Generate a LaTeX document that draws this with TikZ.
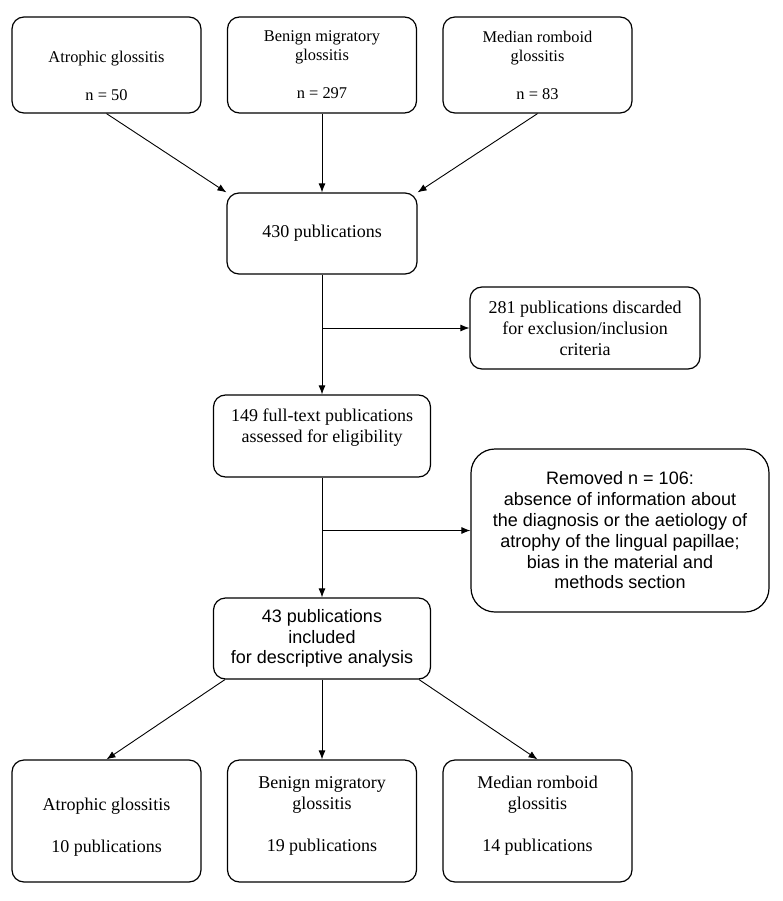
\documentclass[tikz,border=0pt]{standalone}
\usepackage{fontspec}
\setmainfont{Liberation Serif}
\setsansfont{Liberation Sans}
\usetikzlibrary{positioning, shapes, arrows.meta, calc}

\begin{document}
\begin{tikzpicture}[x=1pt, y=-1pt,
    box/.style={draw, rounded corners=12pt, line width=1.2pt, align=center, inner sep=0pt},
    arr/.style={-{Latex[length=9pt,width=7pt]}, line width=0.9pt},
    toptxt/.style={font=\fontsize{16.4}{19}\selectfont},
    bigtxt/.style={font=\fontsize{18}{21}\selectfont},
    sanstxt/.style={font=\sffamily\fontsize{18}{20.8}\selectfont}]
  \useasboundingbox (0,0) rectangle (783,901);

  % Nodes
  \foreach \x/\name/\txt in {106.5/atroA/{\strut\\Atrophic glossitis\\~\\n = 50},
                             322/benA/{Benign migratory\\glossitis\\~\\n = 297},
                             537.5/medA/{Median romboid\\glossitis\\~\\n = 83}}
  \node[box, toptxt, minimum width=189pt, minimum height=96pt] (\name) at (\x,65) {\txt};

  \node[box, bigtxt, minimum width=190pt, minimum height=81pt] (pubs) at (322,233.5) {430 publications};
  \node[box, bigtxt, minimum width=230pt, minimum height=82pt] (discard) at (585,328)
       {281 publications discarded\\for exclusion/inclusion\\criteria};
  \node[box, bigtxt, minimum width=217pt, minimum height=82pt] (full) at (322,436)
       {149 full-text publications\\assessed for eligibility\\~};
  \node[box, sanstxt, rounded corners=24pt, minimum width=298pt, minimum height=163pt] (removed) at (620,530.5)
       {Removed n = 106:\\absence of information about\\the diagnosis or the aetiology of\\atrophy of the lingual papillae;\\bias in the material and\\methods section};
  \node[box, sanstxt, minimum width=217pt, minimum height=81pt] (incl) at (322,638.5)
       {43 publications\\included\\for descriptive analysis};

  \foreach \x/\name/\txt in {106.5/atroB/{\strut\\Atrophic glossitis\\~\\10 publications},
                             322/benB/{Benign migratory\\glossitis\\~\\19 publications},
                             537.5/medB/{Median romboid\\glossitis\\~\\14 publications}}
  \node[box, bigtxt, text depth=14pt, minimum width=189pt, minimum height=122pt] (\name) at (\x,821) {\txt};

  % Arrows
  \draw[arr] (atroA.south) -- (pubs.north west);
  \draw[arr] (benA.south) -- (pubs.north);
  \draw[arr] (medA.south) -- (pubs.north east);
  \draw[arr] (pubs.south) -- (full.north);
  \draw[arr] (pubs.south |- discard.west) -- (discard.west);
  \draw[arr] (full.south) -- (incl.north);
  \draw[arr] (full.south |- removed.west) -- (removed.west);
  \draw[arr] ([xshift=12pt]incl.south west) -- (atroB.north);
  \draw[arr] (incl.south) -- (benB.north);
  \draw[arr] ([xshift=-12pt]incl.south east) -- (medB.north);
\end{tikzpicture}
\end{document}
